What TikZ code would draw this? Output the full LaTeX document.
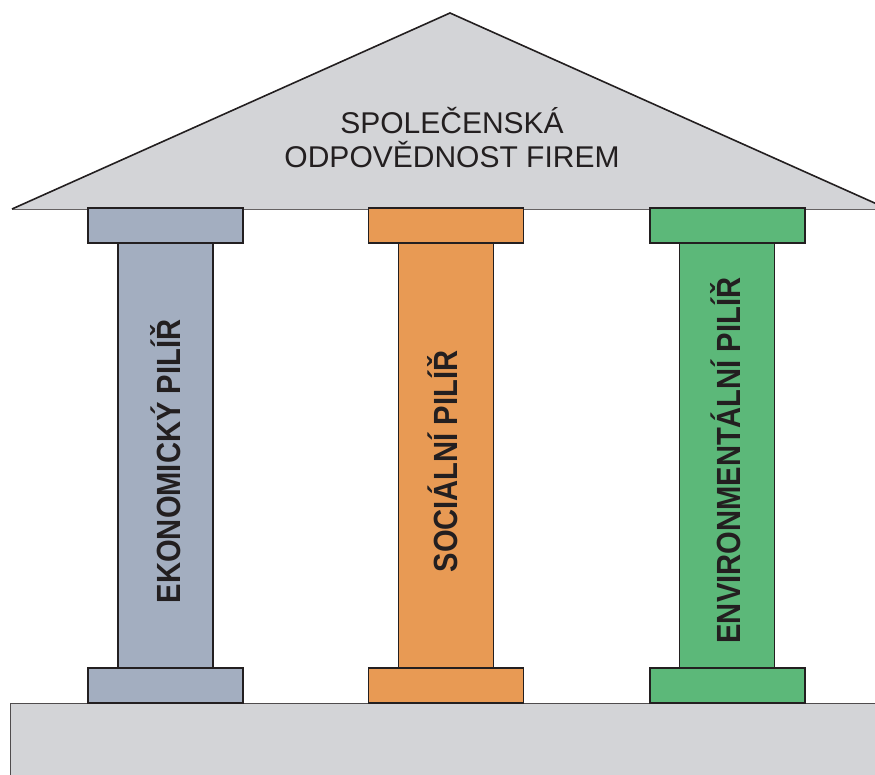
\documentclass[tikz,border=0pt]{standalone}
\usepackage{fontspec}
\setmainfont{Liberation Sans}
\newfontfamily\pillarfont[FakeStretch=0.87]{Liberation Sans}

\definecolor{roofgray}{HTML}{D3D4D7}
\definecolor{ekoblue}{HTML}{A3AEC0}
\definecolor{socorange}{HTML}{E89A54}
\definecolor{envgreen}{HTML}{5CB879}
\definecolor{outline}{HTML}{231F20}

\begin{document}
\begin{tikzpicture}[x=1pt,y=-1pt,
    pillarcap/.style={rectangle, draw=outline, line width=1.6pt,
                minimum width=155pt, minimum height=35pt, inner sep=0pt},
    shaft/.style={rectangle, draw=outline, line width=1.3pt,
                  minimum width=95pt, minimum height=425pt, inner sep=0pt},
    pillarlabel/.style={rotate=90, anchor=base, text=outline,
                        font={\pillarfont\fontsize{33.5}{38}\selectfont\bfseries}},
    rooflabel/.style={anchor=base, text=outline,
                      font={\fontsize{30}{34}\selectfont}}]

    \useasboundingbox (0,0) rectangle (875,774);
    \clip (0,0) rectangle (875,774);

    %roof
    \fill[roofgray] (12,209) -- (450,13) -- (888,209) -- cycle;
    \draw[outline!70, line width=1pt] (12,209) -- (888,209);
    \draw[outline, line width=1.6pt, line join=miter] (12,209) -- (450,13) -- (888,209);

    \node[rooflabel] (roof1) at (452,133) {SPOLEČENSKÁ};
    \node[rooflabel] (roof2) at (452,167) {ODPOVĚDNOST FIREM};

    %base
    \draw[fill=roofgray, draw=outline!80, line width=1pt] (10,703) rectangle (890,790);

    %economic pillar
    \node[shaft, fill=ekoblue] (eshaft) at (165.5,455.5) {};
    \node[pillarcap, fill=ekoblue] (etop) at (165.5,225.5) {};
    \node[pillarcap, fill=ekoblue] (ebot) at (165.5,685.5) {};
    \node[pillarlabel] (elab) at ([xshift=14.5pt,yshift=-6pt]eshaft.center) {EKONOMICKÝ PILÍŘ};

    %social pillar
    \node[shaft, fill=socorange] (sshaft) at (446,455.5) {};
    \node[pillarcap, fill=socorange] (stop) at (446,225.5) {};
    \node[pillarcap, fill=socorange] (sbot) at (446,685.5) {};
    \node[pillarlabel] (slab) at ([xshift=11pt,yshift=-6pt]sshaft.center) {SOCIÁLNÍ PILÍŘ};

    %environmental pillar
    \node[shaft, fill=envgreen] (nshaft) at (727,455.5) {};
    \node[pillarcap, fill=envgreen] (ntop) at (727.5,225.5) {};
    \node[pillarcap, fill=envgreen] (nbot) at (727.5,685.5) {};
    \node[pillarlabel] (nlab) at ([xshift=13pt,yshift=-5pt]nshaft.center) {ENVIRONMENTÁLNÍ PILÍŘ};

\end{tikzpicture}
\end{document}
